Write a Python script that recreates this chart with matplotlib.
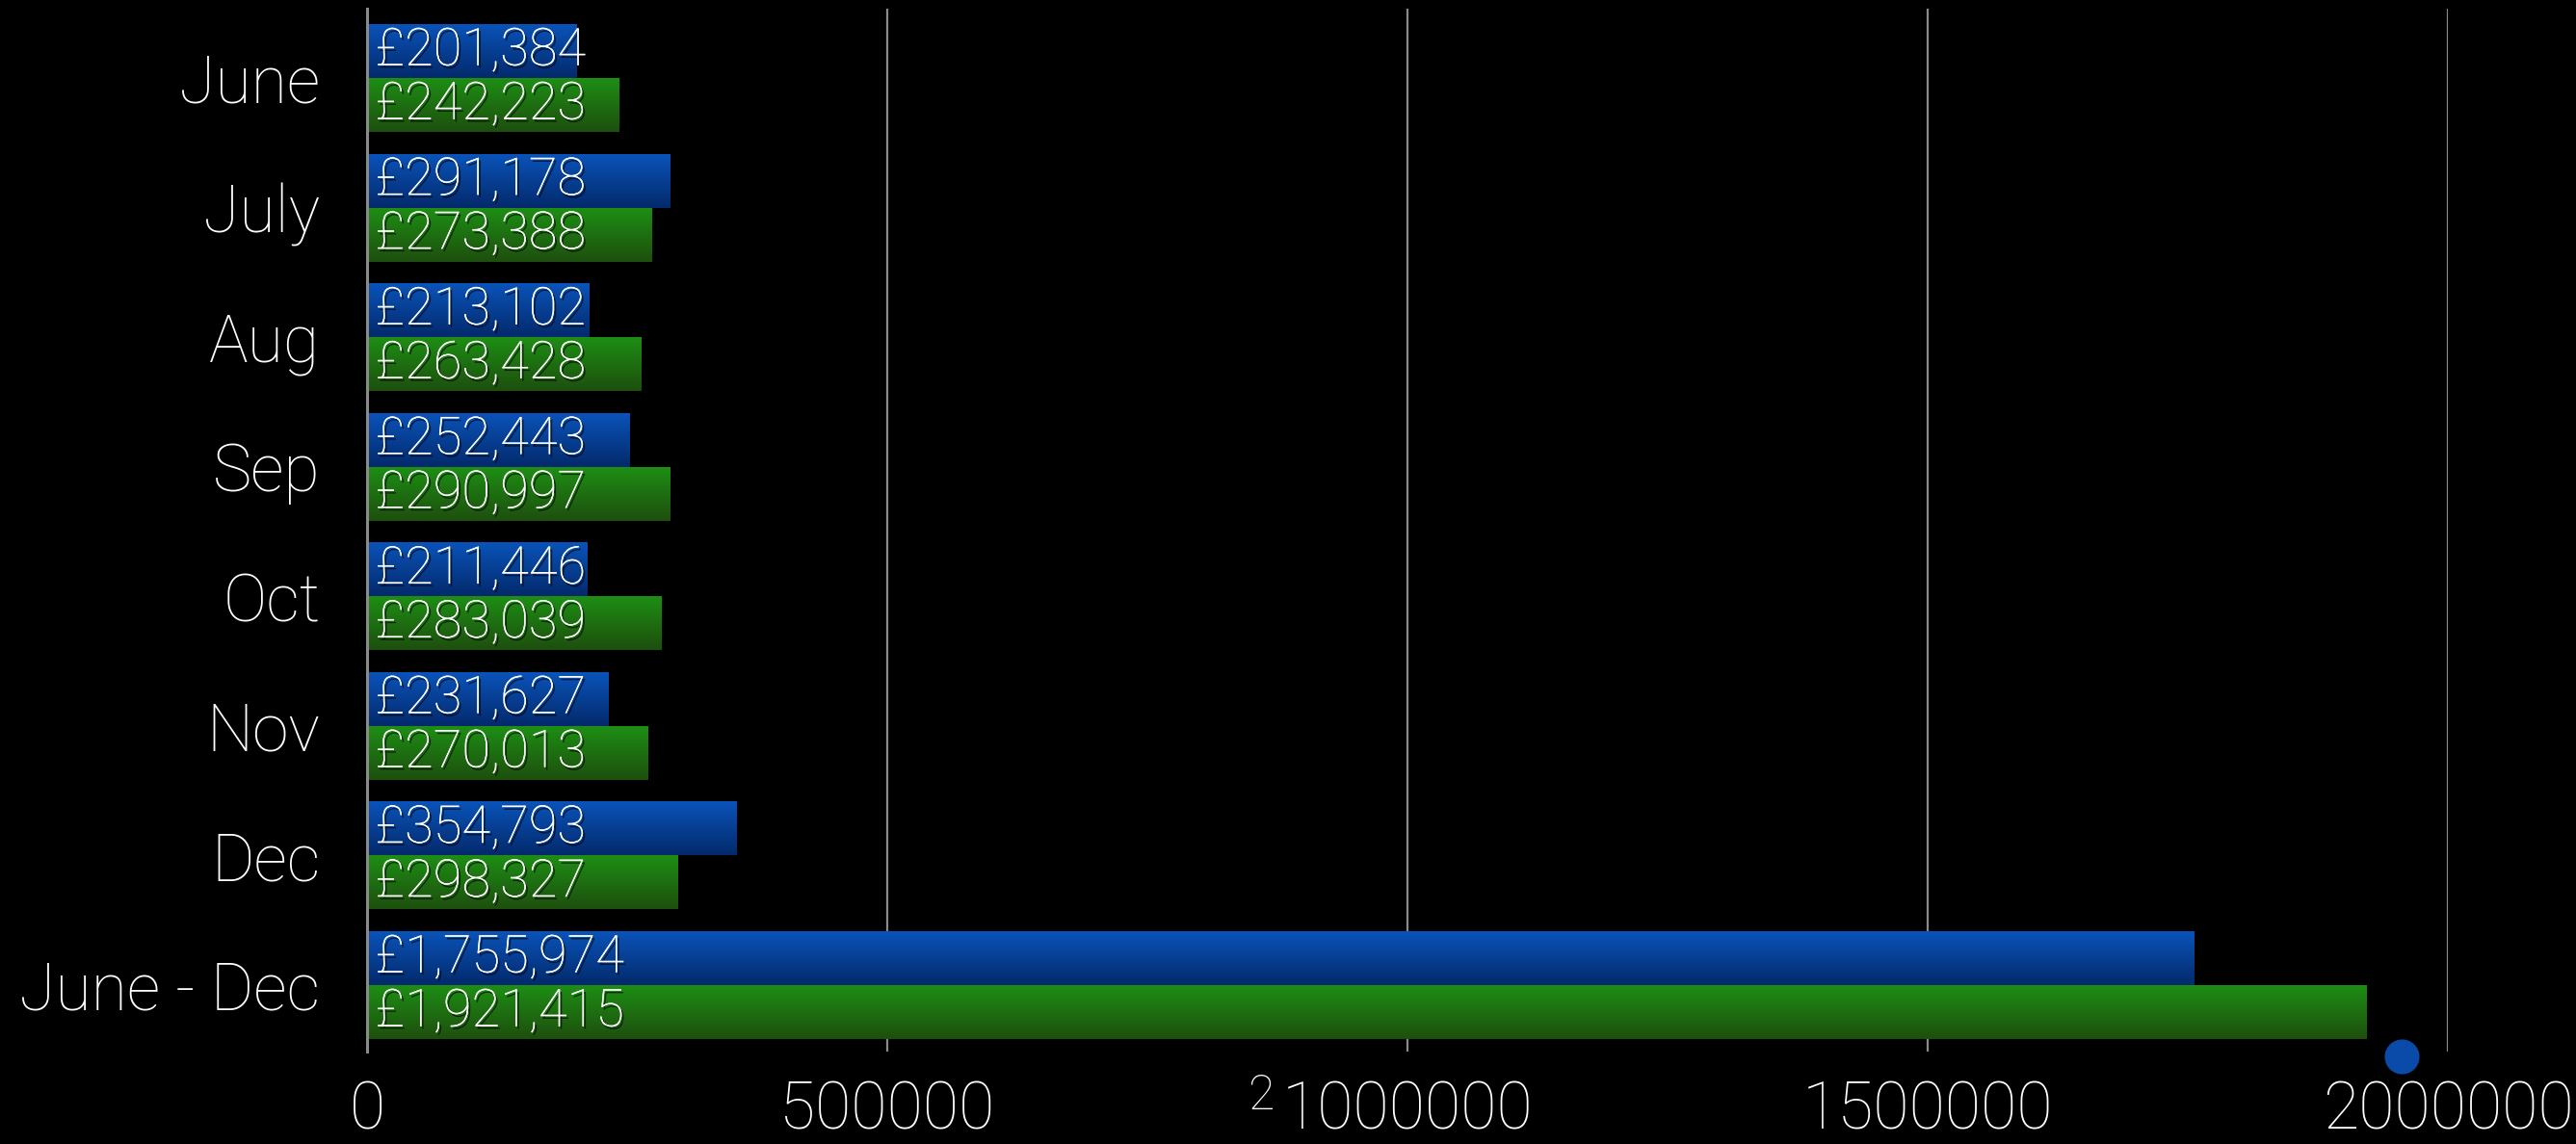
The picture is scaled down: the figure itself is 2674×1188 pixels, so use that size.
import numpy as np
import matplotlib
matplotlib.use("Agg")
import matplotlib.pyplot as plt
import matplotlib.patheffects as pe
from matplotlib.colors import LinearSegmentedColormap

months = ['June', 'July', 'Aug', 'Sep', 'Oct', 'Nov', 'Dec', 'June - Dec']
series_a = [201384, 291178, 213102, 252443, 211446, 231627, 354793, 1755974]
series_b = [242223, 273388, 263428, 290997, 283039, 270013, 298327, 1921415]
x_ticks = [0, 500000, 1000000, 1500000, 2000000]

plt.rcParams['font.family'] = ['Roboto', 'DejaVu Sans']

blue_cmap = LinearSegmentedColormap.from_list('blue', ['#0a53b9', '#032a6c'])
green_cmap = LinearSegmentedColormap.from_list('green', ['#1e8e14', '#1d4f0e'])
grad = np.linspace(0, 1, 64).reshape(-1, 1)

fig = plt.figure(figsize=(26.74, 11.88), dpi=100, facecolor='black')
ax = fig.add_axes([0.1425, 0.0808, 0.8078, 0.9116])
ax.set_facecolor('black')

bar_h = 0.416
shadow = [pe.withSimplePatchShadow(offset=(1.5, -2), shadow_rgbFace='black', alpha=0.6), pe.Normal()]

for i, (a, b) in enumerate(zip(series_a, series_b)):
    # blue bar on top, green below
    ax.imshow(grad, cmap=blue_cmap, aspect='auto', extent=[0, a, i, i - bar_h], zorder=2)
    ax.imshow(grad, cmap=green_cmap, aspect='auto', extent=[0, b, i + bar_h, i], zorder=2)
    ax.text(8000, i - bar_h / 2, '£{:,}'.format(a), color='white', fontsize=39,
            fontweight='light', va='center', ha='left', zorder=3, path_effects=shadow)
    ax.text(8000, i + bar_h / 2, '£{:,}'.format(b), color='white', fontsize=39,
            fontweight='light', va='center', ha='left', zorder=3, path_effects=shadow)

ax.set_xlim(0, 2000000)
ax.set_ylim(len(months) - 1 + 0.513, -0.535)
ax.set_yticks(range(len(months)))
ax.set_yticklabels(months)
ax.set_xticks(x_ticks)
ax.set_xticklabels([str(t) for t in x_ticks])
ax.tick_params(axis='x', length=0, colors='white', labelsize=49, pad=21)
ax.tick_params(axis='y', length=0, colors='white', labelsize=49, pad=35)
for lab in ax.get_xticklabels() + ax.get_yticklabels():
    lab.set_fontweight('light')

ax.grid(axis='x', color='#8a8a8a', linewidth=1.6, zorder=1)
ax.set_axisbelow(True)
for s in ['top', 'right', 'bottom']:
    ax.spines[s].set_visible(False)
ax.spines['left'].set_color('#8a8a8a')
ax.spines['left'].set_linewidth(2.2)

# stray marker and label left in the original slide
ax.plot([1955000], [7.55], 'o', color='#0a4aa8', markersize=25, clip_on=False, zorder=4)
fig.text(0.4895, 0.042, '2', color='white', fontsize=36, fontweight='light', ha='center', va='center')

fig.savefig('out.png', dpi=100, facecolor='black')
